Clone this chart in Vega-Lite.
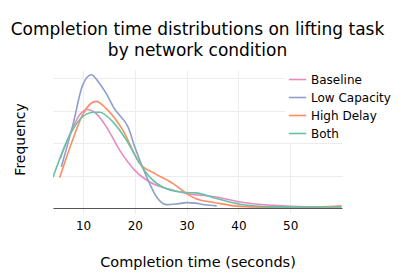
{
  "$schema": "https://vega.github.io/schema/vega-lite/v6.json",
  "autosize": "none",
  "width": 289,
  "height": 138,
  "padding": {"left": 53, "top": 70, "right": 65, "bottom": 65},
  "background": "white",
  "title": {
    "text": ["Completion time distributions on lifting task", "by network condition"],
    "font": "DejaVu Sans",
    "fontSize": 17,
    "fontWeight": "normal",
    "color": "#000000",
    "lineHeight": 21,
    "anchor": "middle",
    "frame": "group",
    "offset": 7
  },
  "config": {
    "view": {"stroke": null},
    "font": "DejaVu Sans"
  },
  "data": {
    "values": [
      {"c": "Baseline", "t": 5.6, "d": 0.0304},
      {"c": "Baseline", "t": 7.0, "d": 0.042},
      {"c": "Baseline", "t": 8.1, "d": 0.0500},
      {"c": "Baseline", "t": 9.5, "d": 0.0580},
      {"c": "Baseline", "t": 10.7, "d": 0.0607},
      {"c": "Baseline", "t": 12.6, "d": 0.0580},
      {"c": "Baseline", "t": 14.5, "d": 0.0500},
      {"c": "Baseline", "t": 17.1, "d": 0.0355},
      {"c": "Baseline", "t": 20.0, "d": 0.0232},
      {"c": "Baseline", "t": 22.9, "d": 0.0160},
      {"c": "Baseline", "t": 27.4, "d": 0.0109},
      {"c": "Baseline", "t": 30.3, "d": 0.0088},
      {"c": "Baseline", "t": 35.8, "d": 0.0068},
      {"c": "Baseline", "t": 40.3, "d": 0.0037},
      {"c": "Baseline", "t": 46.8, "d": 0.0016},
      {"c": "Baseline", "t": 53.2, "d": 0.0007},
      {"c": "Baseline", "t": 59.9, "d": 0.0006},
      {"c": "Low Capacity", "t": 5.8, "d": 0.0252},
      {"c": "Low Capacity", "t": 8.1, "d": 0.0520},
      {"c": "Low Capacity", "t": 9.9, "d": 0.0755},
      {"c": "Low Capacity", "t": 11.6, "d": 0.0821},
      {"c": "Low Capacity", "t": 13.0, "d": 0.0775},
      {"c": "Low Capacity", "t": 14.5, "d": 0.0704},
      {"c": "Low Capacity", "t": 16.1, "d": 0.0610},
      {"c": "Low Capacity", "t": 17.1, "d": 0.0570},
      {"c": "Low Capacity", "t": 18.7, "d": 0.0498},
      {"c": "Low Capacity", "t": 20.0, "d": 0.0375},
      {"c": "Low Capacity", "t": 22.3, "d": 0.0190},
      {"c": "Low Capacity", "t": 24.2, "d": 0.0068},
      {"c": "Low Capacity", "t": 26.1, "d": 0.0021},
      {"c": "Low Capacity", "t": 28.0, "d": 0.0025},
      {"c": "Low Capacity", "t": 30.0, "d": 0.0033},
      {"c": "Low Capacity", "t": 31.7, "d": 0.0030},
      {"c": "Low Capacity", "t": 33.5, "d": 0.0020},
      {"c": "Low Capacity", "t": 35.8, "d": 0.0013},
      {"c": "High Delay", "t": 5.5, "d": 0.0187},
      {"c": "High Delay", "t": 8.0, "d": 0.0420},
      {"c": "High Delay", "t": 10.0, "d": 0.0580},
      {"c": "High Delay", "t": 12.5, "d": 0.0657},
      {"c": "High Delay", "t": 14.5, "d": 0.0612},
      {"c": "High Delay", "t": 17.7, "d": 0.0478},
      {"c": "High Delay", "t": 21.0, "d": 0.0273},
      {"c": "High Delay", "t": 23.9, "d": 0.0212},
      {"c": "High Delay", "t": 27.4, "d": 0.0150},
      {"c": "High Delay", "t": 30.0, "d": 0.0089},
      {"c": "High Delay", "t": 31.7, "d": 0.0058},
      {"c": "High Delay", "t": 35.8, "d": 0.0031},
      {"c": "High Delay", "t": 40.3, "d": 0.0010},
      {"c": "High Delay", "t": 46.8, "d": 0.0004},
      {"c": "High Delay", "t": 53.2, "d": 0.0004},
      {"c": "High Delay", "t": 59.9, "d": 0.0013},
      {"c": "Both", "t": 4.2, "d": 0.0190},
      {"c": "Both", "t": 7.0, "d": 0.0420},
      {"c": "Both", "t": 9.5, "d": 0.0550},
      {"c": "Both", "t": 12.0, "d": 0.0590},
      {"c": "Both", "t": 13.2, "d": 0.0590},
      {"c": "Both", "t": 15.8, "d": 0.0529},
      {"c": "Both", "t": 18.4, "d": 0.0417},
      {"c": "Both", "t": 21.0, "d": 0.0273},
      {"c": "Both", "t": 22.9, "d": 0.0190},
      {"c": "Both", "t": 26.1, "d": 0.0119},
      {"c": "Both", "t": 30.0, "d": 0.0095},
      {"c": "Both", "t": 31.7, "d": 0.0093},
      {"c": "Both", "t": 35.8, "d": 0.0058},
      {"c": "Both", "t": 40.3, "d": 0.0023},
      {"c": "Both", "t": 46.8, "d": 0.0007},
      {"c": "Both", "t": 53.2, "d": 0.0005},
      {"c": "Both", "t": 59.9, "d": 0.0006}
    ]
  },
  "mark": {"type": "line", "interpolate": "monotone", "strokeWidth": 1.6, "clip": true},
  "encoding": {
    "x": {
      "field": "t", "type": "quantitative",
      "scale": {"domain": [4.2, 60], "nice": false, "zero": false},
      "axis": {
        "title": "Completion time (seconds)",
        "titleFont": "DejaVu Sans", "titleFontSize": 14.5, "titleFontWeight": "normal", "titleColor": "#000",
        "titlePadding": 24,
        "values": [10, 20, 30, 40, 50],
        "labelFont": "DejaVu Sans", "labelFontSize": 12, "labelColor": "#000", "labelPadding": 7,
        "grid": true, "gridColor": "#ececec", "gridWidth": 1,
        "domainColor": "#555555", "domainWidth": 1,
        "tickColor": "#ececec", "tickSize": 5
      }
    },
    "y": {
      "field": "d", "type": "quantitative",
      "scale": {"domain": [0, 0.085], "nice": false},
      "axis": {
        "title": "Frequency",
        "titleFont": "DejaVu Sans", "titleFontSize": 14, "titleFontWeight": "normal", "titleColor": "#000",
        "titlePadding": 26,
        "values": [0, 0.02, 0.04, 0.06, 0.08],
        "labels": false, "ticks": false, "domain": false,
        "grid": true, "gridColor": "#ececec", "gridWidth": 1
      }
    },
    "color": {
      "field": "c", "type": "nominal",
      "scale": {
        "domain": ["Baseline", "Low Capacity", "High Delay", "Both"],
        "range": ["#E78AC3", "#8DA0CB", "#FC8D62", "#66C2A5"]
      },
      "legend": {
        "title": null,
        "orient": "none",
        "legendX": 232,
        "legendY": -3,
        "fillColor": "white",
        "padding": 3,
        "symbolType": "stroke",
        "symbolSize": 300,
        "symbolStrokeWidth": 1.6,
        "labelFont": "DejaVu Sans",
        "labelFontSize": 12,
        "labelColor": "#000",
        "rowPadding": 2,
        "labelOffset": 4
      }
    }
  }
}
